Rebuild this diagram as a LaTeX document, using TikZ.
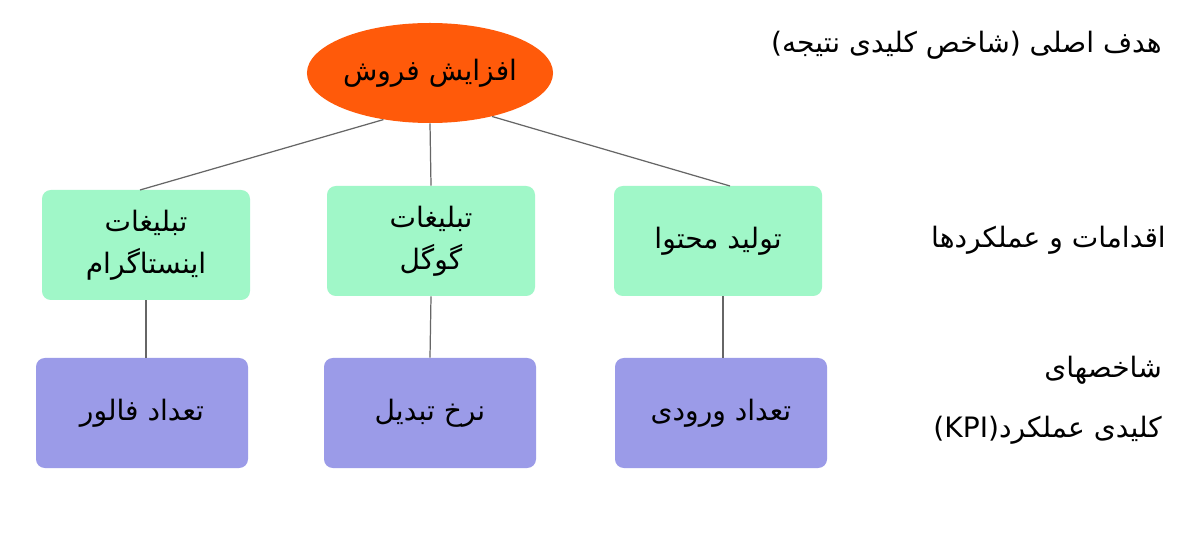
\documentclass[tikz,border=0pt]{standalone}
\usepackage{fontspec}
\usetikzlibrary{shapes.geometric}
\TeXXeTstate=1
\newfontfamily\arabicfont[Script=Arabic]{DejaVu Sans}
\definecolor{orng}{HTML}{FF5A0A}
\definecolor{grn}{HTML}{A0F7C8}
\definecolor{prp}{HTML}{9B9BE8}
\tikzset{
 lbl/.style={font=\arabicfont\fontsize{16}{24}\selectfont, align=center, text=black},
 gbox/.style={lbl, fill=grn, rounded corners=5pt, minimum width=208*0.02cm, minimum height=110*0.02cm},
 pbox/.style={lbl, fill=prp, rounded corners=5pt, minimum width=212*0.02cm, minimum height=110*0.02cm},
 conn/.style={draw=gray!80!black, line width=0.7pt}
}
\begin{document}
\begin{tikzpicture}[x=0.02cm,y=-0.02cm]
\useasboundingbox[fill=white] (0,0) rectangle (1200,533);
\node[lbl, ellipse, fill=orng, minimum width=195*0.02cm, minimum height=100*0.02cm, inner sep=0pt] (root) at (430,73) {\beginR افزایش فروش\endR};
\node[gbox] (g1) at (146,245) {\beginR تبلیغات\endR\\\beginR اینستاگرام\endR};
\node[gbox] (g2) at (431,241) {\beginR تبلیغات\endR\\\beginR گوگل\endR};
\node[gbox] (g3) at (718,241) {\beginR تولید محتوا\endR};
\node[pbox] (p1) at (142,413) {\beginR تعداد فالور\endR};
\node[pbox] (p2) at (430,413) {\beginR نرخ تبدیل\endR};
\node[pbox] (p3) at (721,413) {\beginR تعداد ورودی\endR};
\coordinate (a1) at (140,190);
\draw[conn] (root.225) -- (140,190);
\draw[conn] (root.south) -- (g2.north);
\draw[conn] (root.-35) -- (730,186);
\draw[conn] (g1.south -| 146,0) -- (p1.north -| 146,0);
\draw[conn] (g2.south) -- (p2.north);
\draw[conn] (g3.south -| 723,0) -- (p3.north -| 723,0);
\node[lbl, anchor=east] (t1) at (1168,45) {\beginR هدف اصلی (شاخص کلیدی نتیجه)\endR};
\node[lbl, anchor=east] (t2) at (1172,240) {\beginR اقدامات و عملکردها\endR};
\node[lbl, anchor=east] (t3) at (1168,370) {\beginR شاخصهای\endR};
\node[lbl, anchor=east] (t4) at (1168,430) {\beginR کلیدی عملکرد(\beginL KPI\endL)\endR};
\end{tikzpicture}
\end{document}
